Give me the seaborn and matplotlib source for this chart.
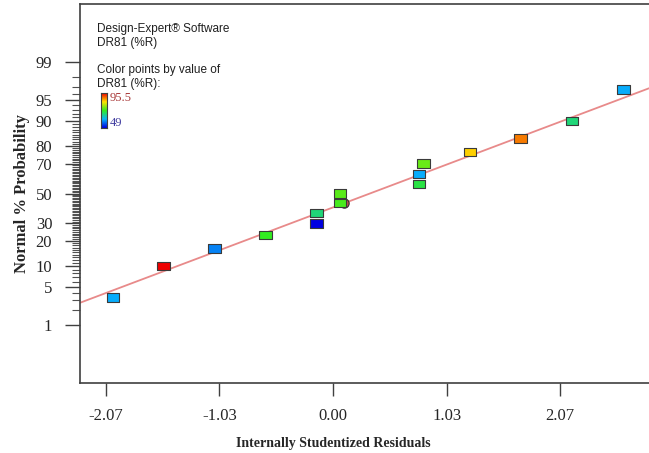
import numpy as np
import pandas as pd
import matplotlib
matplotlib.use('Agg')
import matplotlib.pyplot as plt
from matplotlib.path import Path
from matplotlib.colors import LinearSegmentedColormap
import seaborn as sns
from statistics import NormalDist

# Данные
residuals = [-2.005, -1.545, -1.078, -0.613, -0.152, -0.152, 0.064, 0.064,
             0.784, 0.784, 0.823, 1.249, 1.711, 2.179, 2.644]
probability = [3.33, 10.0, 16.67, 23.33, 30.0, 36.67, 43.33, 50.0,
               56.67, 63.33, 70.0, 76.67, 83.33, 90.0, 96.67]
dr81 = [60.2, 95.5, 57.5, 72.3, 49.0, 67.6, 73.6, 74.6,
        70.4, 60.2, 75.5, 84.8, 89.3, 67.6, 60.2]
dr81_min, dr81_max = 49, 95.5

# линия нормального распределения (в единицах z)
fit_intercept = -0.245
fit_slope = 0.729

y_ticks = [1, 5, 10, 20, 30, 50, 70, 80, 90, 95, 99]
x_ticks = [-2.07, -1.035, 0.0, 1.035, 2.07]
x_labels = ['-2.07', '-1.03', '0.00', '1.03', '2.07']

df = pd.DataFrame({'res': residuals, 'prob': probability, 'dr81': dr81})

nd = NormalDist()
_ppf = np.vectorize(lambda p: nd.inv_cdf(p), otypes=[float])
_cdf = np.vectorize(lambda z: nd.cdf(z), otypes=[float])


def probit(p):
    p = np.clip(np.asarray(p, dtype=float), 1e-9, 100 - 1e-9)
    return _ppf(p / 100.0)


def inv_probit(z):
    return _cdf(np.asarray(z, dtype=float)) * 100.0


cmap = LinearSegmentedColormap.from_list(
    'de', ['#0000e0', '#08b4fc', '#30ec20', '#ffe400', '#ee0000'])

sns.set_style('white')
plt.rcParams['font.family'] = ['Liberation Serif', 'DejaVu Serif']

xmin, xmax = -2.306, 2.88
fig = plt.figure(figsize=(6.49, 4.53), dpi=100)
ax = fig.add_axes([80 / 649, 70 / 453, 1 - 80 / 649, (383 - 4) / 453])
ax.set_yscale('function', functions=(probit, inv_probit))

# линия
xs = np.linspace(xmin, xmax, 300)
ax.plot(xs, inv_probit(fit_intercept + fit_slope * xs), color='#e88a8a', lw=1.3, zorder=2)

# маркер выделенной точки
ax.scatter([0.10], [43.33], s=45, facecolor='#c05050', edgecolor='#303030', lw=0.8, zorder=3)

rect = Path([(-1.5, -1.0), (1.5, -1.0), (1.5, 1.0), (-1.5, 1.0), (-1.5, -1.0)],
            [Path.MOVETO, Path.LINETO, Path.LINETO, Path.LINETO, Path.CLOSEPOLY])
sns.scatterplot(data=df, x='res', y='prob', hue='dr81', palette=cmap,
                hue_norm=(dr81_min, dr81_max), marker=rect, s=85,
                edgecolor='#3a3a3a', linewidth=0.8, legend=False, ax=ax, zorder=4)

ax.set_xlim(xmin, xmax)
ax.set_ylim(inv_probit(-3.34), inv_probit(3.34))
ax.set_xticks(x_ticks)
ax.set_xticklabels(x_labels)
ax.set_yticks(y_ticks)
ax.set_yticklabels([str(t) for t in y_ticks])
ax.set_yticks([v for v in range(2, 99) if v not in y_ticks], minor=True)
ax.tick_params(axis='y', which='major', direction='out', length=11, width=1,
               color='#404040', labelsize=12, pad=9, left=True)
ax.tick_params(axis='y', which='minor', direction='out', length=6, width=0.8,
               color='#505050', left=True)
ax.tick_params(axis='x', which='major', direction='out', length=9, width=1,
               color='#404040', labelsize=12, pad=9, bottom=True)
ax.tick_params(axis='x', which='minor', bottom=False)

for side in ['left', 'bottom', 'top']:
    ax.spines[side].set_color('#404040')
    ax.spines[side].set_linewidth(1.2)
ax.spines['right'].set_visible(False)

ax.set_xlabel('Internally Studentized Residuals', fontsize=10, fontweight='bold', labelpad=9)
ax.set_ylabel('Normal % Probability', fontsize=12, fontweight='bold', labelpad=4)
ax.xaxis.label.set_x((0 - xmin) / (xmax - xmin))
ax.grid(False)

# подписи Design-Expert
sans = ['Liberation Sans', 'DejaVu Sans']
fig.text(97 / 649, 1 - 29 / 453, 'Design-Expert® Software', family=sans, fontsize=8.5,
         va='center', color='#202020')
fig.text(97 / 649, 1 - 43 / 453, 'DR81 (%R)', family=sans, fontsize=8.5,
         va='center', color='#202020')
fig.text(97 / 649, 1 - 70 / 453, 'Color points by value of', family=sans, fontsize=8.5,
         va='center', color='#202020')
fig.text(97 / 649, 1 - 84 / 453, 'DR81 (%R):', family=sans, fontsize=8.5,
         va='center', color='#202020')
fig.text(110 / 649, 1 - 98 / 453, '95.5', fontsize=9, va='center', color='#a83838')
fig.text(110 / 649, 1 - 123 / 453, '49', fontsize=9, va='center', color='#403ca0')

cax = fig.add_axes([101 / 649, 1 - 128 / 453, 6 / 649, 35 / 453])
cax.imshow(np.linspace(1, 0, 100).reshape(-1, 1), aspect='auto', cmap=cmap)
cax.set_xticks([])
cax.set_yticks([])
for s in cax.spines.values():
    s.set_color('#404040')
    s.set_linewidth(0.8)

fig.savefig('out.png', dpi=100)
